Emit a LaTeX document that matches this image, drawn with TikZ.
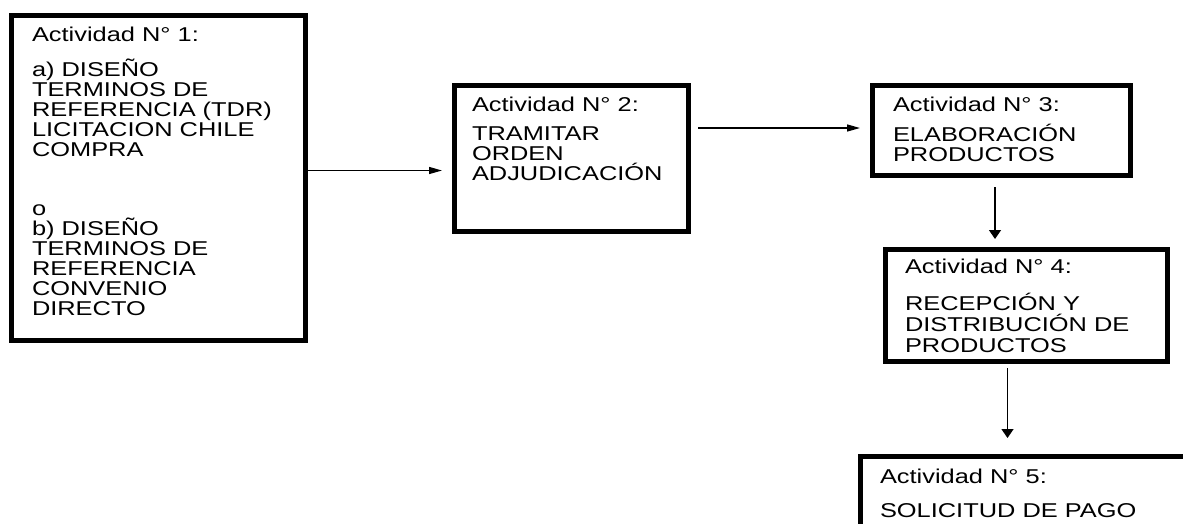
\documentclass[tikz,border=0pt]{standalone}
\usepackage{fontspec}
\setmainfont{Liberation Sans}[FakeStretch=1.27]
\usetikzlibrary{arrows.meta}
\begin{document}
\begin{tikzpicture}[x=1pt,y=-1pt,
  box/.style={draw, line width=5pt, rectangle, inner sep=0pt, outer sep=0pt, anchor=north west},
  txt/.style={anchor=base west, inner sep=0pt, outer sep=0pt, align=left, font=\fontsize{20}{20}\selectfont},
  harrow/.style={line width=1.4pt, -{Triangle[length=13pt,width=7pt]}},
  varrow/.style={line width=1.4pt, -{Triangle[length=9pt,width=12pt]}}]
\clip (0,0) rectangle (1183,523);
\fill[white] (0,0) rectangle (1183,523);
% boxes
\node[box, minimum width=294.5pt, minimum height=325.5pt] (b1) at (11,15) {};
\node[box, minimum width=234pt, minimum height=146pt] (b2) at (454,85) {};
\node[box, minimum width=257.5pt, minimum height=89.5pt] (b3) at (872.5,85.5) {};
\node[box, minimum width=282pt, minimum height=112pt] (b4) at (885,249) {};
\node[box, minimum width=400pt, minimum height=200pt] (b5) at (860,456) {};
% texts (anchored at the baseline of their last line)
\node[txt] (t1) at (32,315) {Actividad N° 1:\\[15pt]a) DISEÑO\\TERMINOS DE\\REFERENCIA (TDR)\\LICITACION CHILE\\COMPRA\\[39pt]o\\b) DISEÑO\\TERMINOS DE\\REFERENCIA\\CONVENIO\\DIRECTO};
\node[txt] (t2) at (472,180) {Actividad N° 2:\\[9pt]TRAMITAR\\ORDEN\\ADJUDICACIÓN};
\node[txt] (t3) at (893,161) {Actividad N° 3:\\[10pt]ELABORACIÓN\\PRODUCTOS};
\node[txt, font=\fontsize{20}{21}\selectfont] (t4) at (905,352) {Actividad N° 4:\\[16pt]RECEPCIÓN Y\\DISTRIBUCIÓN DE\\PRODUCTOS};
\node[txt] (t5) at (880,517) {Actividad N° 5:\\[14pt]SOLICITUD DE PAGO};
% connector guides
\coordinate (y1) at (0,170.5);
\coordinate (y2) at (0,128);
\coordinate (x3) at (995,0);
\coordinate (x4) at (1007.5,0);
% connectors
\draw[harrow, shorten >=12pt] (b1.east |- y1) -- (b2.west |- y1);
\draw[harrow, shorten <=10pt, shorten >=12.5pt] (b2.east |- y2) -- (b3.west |- y2);
\draw[varrow, shorten <=12pt, shorten >=10pt] (x3 |- b3.south) -- (x3 |- b4.north);
\draw[varrow, shorten <=7pt, shorten >=18pt] (x4 |- b4.south) -- (x4 |- b5.north);
\end{tikzpicture}
\end{document}
